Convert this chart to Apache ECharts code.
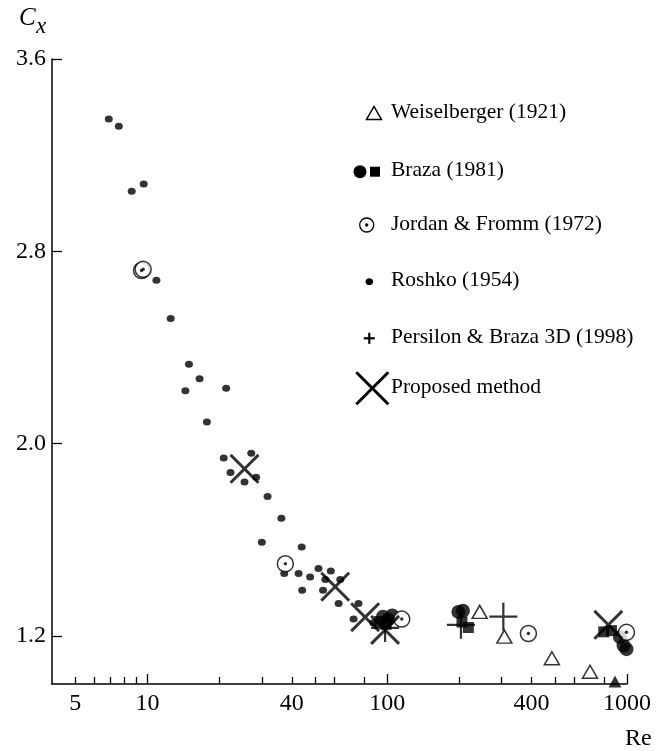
<!DOCTYPE html>
<html><head><meta charset="utf-8">
<script src="https://cdn.jsdelivr.net/npm/echarts@6/dist/echarts.min.js"></script>
<style>html,body{margin:0;padding:0;background:#fff}#c{width:664px;height:751px}</style>
</head><body><div id="c"></div>
<script>
// ---- axis ticks / labels ----
const xTickMajor = [10, 100, 1000];
const xTickMinor = [5, 6, 7, 8, 9, 20, 30, 40, 50, 60, 80, 200, 300, 400, 500, 600, 800];
const xTickLabels = [5, 10, 40, 100, 400, 1000];
const yTickLabels = [1.2, 2.0, 2.8, 3.6];

// ---- data (Re, Cx) ----
const weiselRe = [243, 308, 486, 701];
const weiselCx = [1.30, 1.197, 1.107, 1.051];
const weiselFilledRe = [891];
const weiselFilledCx = [1.01];

const brazaCircRe = [96, 101, 105, 198, 207, 935, 967, 995];
const brazaCircCx = [1.28, 1.268, 1.285, 1.30, 1.305, 1.195, 1.16, 1.145];
const brazaSqRe = [93, 99, 205, 218, 800, 862];
const brazaSqCx = [1.26, 1.248, 1.258, 1.235, 1.217, 1.222];

const jordanRe = [9.45, 9.6, 37.6, 115, 388, 995];
const jordanCx = [2.72, 2.725, 1.50, 1.27, 1.21, 1.215];

const roshkoRe = [6.9, 7.6, 8.6, 9.65, 10.9, 12.5, 14.9, 16.5, 14.4, 21.3, 17.7, 20.8, 27.1, 22.2, 25.4, 28.4,
  31.7, 36.2, 30.0, 44.0, 37.2, 42.7, 47.7, 51.7, 58.2, 55.2, 63.7, 44.2, 54.0, 62.7, 75.9, 72.4, 87.5];
const roshkoCx = [3.35, 3.32, 3.05, 3.08, 2.68, 2.52, 2.33, 2.27, 2.22, 2.23, 2.09, 1.94, 1.96, 1.88, 1.84, 1.86,
  1.78, 1.69, 1.59, 1.57, 1.46, 1.46, 1.445, 1.48, 1.47, 1.435, 1.435, 1.39, 1.39, 1.335, 1.335, 1.27, 1.255];

const persilonRe = [98, 203, 305];
const persilonCx = [1.233, 1.246, 1.28];

const proposedRe = [25.4, 60.7, 80.9, 98, 836];
const proposedCx = [1.895, 1.405, 1.278, 1.225, 1.246];

const zip = (a, b) => a.map((v, i) => [v, b[i]]);
const FONT = 'Liberation Serif';
const X_PATH = 'path://M0,0.7L0.7,0L5,4.3L9.3,0L10,0.7L5.7,5L10,9.3L9.3,10L5,5.7L0.7,10L0,9.3L4.3,5Z';
const PLUS_PATH = 'path://M4.6,0L5.4,0L5.4,4.6L10,4.6L10,5.4L5.4,5.4L5.4,10L4.6,10L4.6,5.4L0,5.4L0,4.6L4.6,4.6Z';

const chart = echarts.init(document.getElementById('c'));
const black = '#000';

function legendItem(y, text) {
  return { type: 'text', left: 391, top: y - 12, style: { text: text, fontFamily: FONT, fontSize: 21.5, fill: black } };
}

chart.setOption({
  animation: false,
  backgroundColor: '#fff',
  grid: { left: 52, right: 37, top: 59, bottom: 67, containLabel: false },
  xAxis: [{
    type: 'log', logBase: 10, min: 4, max: 1000, position: 'bottom',
    axisLine: { show: true, lineStyle: { color: black, width: 1.5 } },
    axisTick: { show: true, inside: true, length: 10, customValues: xTickMajor, lineStyle: { color: black, width: 1.3 } },
    axisLabel: { customValues: xTickLabels, formatter: v => String(Math.round(v)), fontFamily: FONT, fontSize: 24, color: black, margin: 8 },
    splitLine: { show: false }, minorTick: { show: false }
  }, {
    type: 'log', logBase: 10, min: 4, max: 1000, position: 'bottom', gridIndex: 0,
    axisLine: { show: false },
    axisTick: { show: true, inside: true, length: 7, customValues: xTickMinor, lineStyle: { color: black, width: 1.3 } },
    axisLabel: { show: false },
    splitLine: { show: false }
  }],
  yAxis: {
    type: 'value', min: 1.0, max: 3.6,
    axisLine: { show: true, lineStyle: { color: black, width: 1.5 } },
    axisTick: { show: true, inside: true, length: 10, customValues: yTickLabels, lineStyle: { color: black, width: 1.3 } },
    axisLabel: { customValues: yTickLabels, formatter: v => v.toFixed(1), fontFamily: FONT, fontSize: 24, color: black, margin: 6 },
    splitLine: { show: false }
  },
  series: [
    { name: 'Roshko (1954)', type: 'scatter', data: zip(roshkoRe, roshkoCx), symbol: 'circle', symbolSize: [8, 7], itemStyle: { color: black }, clip: false, z: 2 },
    { name: 'Braza (1981)', type: 'scatter', data: zip(brazaCircRe, brazaCircCx), symbol: 'circle', symbolSize: 14, itemStyle: { color: black }, clip: false, z: 3 },
    { name: 'Braza (1981) sq', type: 'scatter', data: zip(brazaSqRe, brazaSqCx), symbol: 'rect', symbolSize: 11, itemStyle: { color: black }, clip: false, z: 3 },
    { name: 'Weiselberger (1921)', type: 'scatter', data: zip(weiselRe, weiselCx), symbol: 'triangle', symbolSize: [15, 13], itemStyle: { color: '#fff', borderColor: black, borderWidth: 1.5 }, clip: false, z: 4 },
    { name: 'filled', type: 'scatter', data: zip(weiselFilledRe, weiselFilledCx), symbol: 'triangle', symbolSize: [13, 12], itemStyle: { color: black }, clip: false, z: 4 },
    { name: 'Jordan & Fromm (1972)', type: 'scatter', data: zip(jordanRe, jordanCx), symbol: 'circle', symbolSize: 16, itemStyle: { color: '#fff', borderColor: black, borderWidth: 1.5 }, clip: false, z: 5 },
    { name: 'Jordan dots', type: 'scatter', data: zip(jordanRe, jordanCx), symbol: 'circle', symbolSize: 3.5, itemStyle: { color: black }, clip: false, z: 6 },
    { name: 'Persilon & Braza 3D (1998)', type: 'scatter', data: zip(persilonRe, persilonCx), symbol: PLUS_PATH, symbolSize: 28, itemStyle: { color: black }, clip: false, z: 7 },
    { name: 'Proposed method', type: 'scatter', data: zip(proposedRe, proposedCx), symbol: X_PATH, symbolSize: 30, itemStyle: { color: black }, clip: false, z: 7 }
  ],
  graphic: [
    { type: 'text', left: 19, top: 6, style: { text: 'C', fontFamily: FONT, fontStyle: 'italic', fontSize: 25, fill: black } },
    { type: 'text', left: 36, top: 15, style: { text: 'x', fontFamily: FONT, fontStyle: 'italic', fontSize: 23, fill: black } },
    { type: 'text', left: 625, top: 727, style: { text: 'Re', fontFamily: FONT, fontSize: 24, fill: black } },
    // legend symbols
    { type: 'polygon', shape: { points: [[366.5, 119.5], [381.5, 119.5], [374, 106.5]] }, style: { fill: '#fff', stroke: black, lineWidth: 1.5 } },
    legendItem(113, 'Weiselberger (1921)'),
    { type: 'circle', shape: { cx: 360, cy: 171.7, r: 6.5 }, style: { fill: black } },
    { type: 'rect', shape: { x: 370, y: 166.7, width: 10, height: 10 }, style: { fill: black } },
    legendItem(171.7, 'Braza (1981)'),
    { type: 'circle', shape: { cx: 366.7, cy: 225, r: 7 }, style: { fill: '#fff', stroke: black, lineWidth: 1.3 } },
    { type: 'circle', shape: { cx: 366.7, cy: 225, r: 1.7 }, style: { fill: black } },
    legendItem(225, 'Jordan & Fromm (1972)'),
    { type: 'ellipse', shape: { cx: 369.3, cy: 281.7, rx: 3.8, ry: 3.4 }, style: { fill: black } },
    legendItem(281.7, 'Roshko (1954)'),
    { type: 'line', shape: { x1: 363.8, y1: 338.3, x2: 374.8, y2: 338.3 }, style: { stroke: black, lineWidth: 2.2 } },
    { type: 'line', shape: { x1: 369.3, y1: 332.8, x2: 369.3, y2: 343.8 }, style: { stroke: black, lineWidth: 2.2 } },
    legendItem(338.3, 'Persilon & Braza 3D (1998)'),
    { type: 'line', shape: { x1: 356.3, y1: 372.3, x2: 388.3, y2: 404.3 }, style: { stroke: black, lineWidth: 3 } },
    { type: 'line', shape: { x1: 388.3, y1: 372.3, x2: 356.3, y2: 404.3 }, style: { stroke: black, lineWidth: 3 } },
    legendItem(388.3, 'Proposed method')
  ]
});
</script>
</body></html>
